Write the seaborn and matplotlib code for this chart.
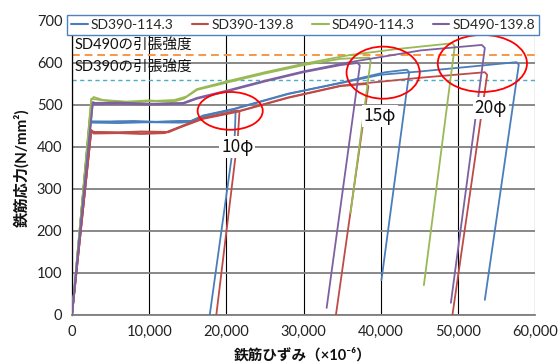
import matplotlib
matplotlib.use("Agg")
import matplotlib.pyplot as plt
import seaborn as sns
import pandas as pd
from matplotlib.patches import Ellipse
from matplotlib.ticker import FuncFormatter

# ---- series ----
series_names = ["SD390-114.3", "SD390-139.8", "SD490-114.3", "SD490-139.8"]
series_colors = ["#4A7EBB", "#BE4B48", "#98B954", "#7D60A0"]

# SD390-114.3 : unloading after 10φ / 15φ / 20φ
b10_strain = [0, 2300, 2600, 5000, 8000, 11000, 14000, 15500, 17000, 19000, 21000, 21200, 21100, 17850]
b10_stress = [0, 465, 461, 460, 462, 460, 461, 462, 474, 482, 489, 486, 430, 0]
b15_strain = [0, 2300, 2500, 6000, 10000, 14000, 15600, 17000, 21000, 28000, 34800, 40600, 43400, 43700, 40100]
b15_stress = [0, 462, 458, 457, 459, 458, 460, 473, 490, 526, 553, 578, 584, 578, 83]
b20_strain = [0, 2300, 2500, 6000, 10000, 14000, 15400, 17000, 21000, 28000, 34800, 40000, 45200, 52000, 57600, 57900, 53500]
b20_stress = [0, 463, 460, 461, 459, 462, 462, 475, 491, 527, 552, 572, 580, 592, 602, 596, 36]

# SD390-139.8
r10_strain = [0, 2500, 2800, 6000, 9000, 12300, 14500, 17000, 19500, 21500, 21700, 21500, 18700]
r10_stress = [0, 440, 436, 435, 437, 436, 452, 469, 479, 487, 484, 425, 0]
r15_strain = [0, 2500, 2800, 6000, 9000, 12000, 14500, 17000, 21500, 28000, 34800, 38100, 38400, 34200]
r15_stress = [0, 438, 432, 433, 431, 433, 450, 467, 484, 517, 545, 550, 545, 0]
r20_strain = [0, 2500, 2800, 6000, 9000, 12500, 14500, 17000, 21500, 28000, 34800, 45200, 53500, 53800, 49300]
r20_stress = [0, 440, 435, 434, 436, 435, 451, 469, 485, 518, 546, 565, 578, 572, 0]

# SD490-114.3 : unloading after 15φ / 20φ
g15_strain = [0, 2500, 2800, 4000, 7000, 10000, 13000, 14500, 16200, 20000, 25000, 30000, 34800, 38500, 38700, 36100]
g15_stress = [0, 512, 519, 512, 508, 511, 507, 515, 536, 553, 575, 595, 610, 613, 605, 243]
g20_strain = [0, 2500, 2800, 5000, 8000, 11000, 13300, 14800, 16200, 20000, 25000, 30000, 36000, 42000, 49300, 49600, 45600]
g20_stress = [0, 515, 514, 509, 506, 510, 512, 520, 538, 556, 578, 598, 619, 633, 647, 640, 71]

# SD490-139.8
p15_strain = [0, 2700, 3000, 6000, 10000, 14400, 16200, 20000, 25000, 30000, 34800, 37000, 37300, 33000]
p15_stress = [0, 505, 502, 503, 501, 503, 515, 532, 556, 578, 595, 600, 594, 17]
p20_strain = [0, 2700, 3000, 6000, 10000, 14400, 16200, 20000, 25000, 30000, 36000, 45200, 53100, 53500, 49100]
p20_stress = [0, 507, 505, 506, 503, 505, 517, 534, 558, 580, 602, 630, 643, 636, 29]

# tensile strength reference levels
ts_sd490 = 620
ts_sd390 = 560

x_ticks = [0, 10000, 20000, 30000, 40000, 50000, 60000]
y_ticks = [0, 100, 200, 300, 400, 500, 600, 700]

tests = [
    ("SD390-114.3", "10φ", b10_strain, b10_stress),
    ("SD390-114.3", "15φ", b15_strain, b15_stress),
    ("SD390-114.3", "20φ", b20_strain, b20_stress),
    ("SD390-139.8", "10φ", r10_strain, r10_stress),
    ("SD390-139.8", "15φ", r15_strain, r15_stress),
    ("SD390-139.8", "20φ", r20_strain, r20_stress),
    ("SD490-114.3", "15φ", g15_strain, g15_stress),
    ("SD490-114.3", "20φ", g20_strain, g20_stress),
    ("SD490-139.8", "15φ", p15_strain, p15_stress),
    ("SD490-139.8", "20φ", p20_strain, p20_stress),
]

rows = []
for name, tag, xs, ys in tests:
    for x, y in zip(xs, ys):
        rows.append({"strain": x, "stress": y, "series": name, "test": f"{name} {tag}"})
df = pd.DataFrame(rows)

sns.set_theme(style="white")
plt.rcParams["font.family"] = ["Lato", "Noto Sans CJK JP", "DejaVu Sans"]

W, H = 560, 363
fig = plt.figure(figsize=(W / 100, H / 100), dpi=100)
ax = fig.add_axes([72 / W, 1 - 315 / H, (535 - 72) / W, (315 - 21) / H])

sns.lineplot(data=df, x="strain", y="stress", hue="series", hue_order=series_names,
             palette=series_colors, units="test", estimator=None, sort=False,
             linewidth=1.3, ax=ax, zorder=3)

ax.set_xlim(0, 60000)
ax.set_ylim(0, 700)
ax.set_xticks(x_ticks)
ax.set_yticks(y_ticks)
ax.xaxis.set_major_formatter(FuncFormatter(lambda v, p: f"{int(v):,}"))

# grid: grey horizontals, black verticals
ax.set_axisbelow(True)
ax.yaxis.grid(True, color="#7f7f7f", linewidth=1.3)
ax.xaxis.grid(True, color="#000000", linewidth=0.8)
for s in ["top", "right"]:
    ax.spines[s].set_visible(False)
ax.spines["left"].set_color("black")
ax.spines["left"].set_linewidth(0.9)
ax.spines["bottom"].set_color("#7f7f7f")
ax.spines["bottom"].set_linewidth(1.3)
ax.tick_params(axis="both", direction="out", length=4, width=0.9, color="black",
               labelsize=10.5, labelcolor="#222222", pad=3)
ax.set_xlabel("")
ax.set_ylabel("")

# tensile strength lines
ax.axhline(ts_sd490, color="#F79646", linestyle=(0, (4, 2.5)), linewidth=1.4, zorder=2)
ax.axhline(ts_sd390, color="#4BACC6", linestyle=(0, (3, 2.5)), linewidth=1.0, zorder=2)
ax.text(390, 641, "SD490の引張強度", ha="left", va="center", fontsize=10.5, color="#111111")
ax.text(390, 588, "SD390の引張強度", ha="left", va="center", fontsize=10.5, color="#111111")

# unloading zones
for (cx, cy, w, h) in [(20500, 486, 8440, 90), (40320, 577, 9480, 124), (53180, 599, 11560, 136)]:
    ax.add_patch(Ellipse((cx, cy), w, h, fill=False, edgecolor="#FF0000", linewidth=1.3, zorder=5))
for (tx, ty, s) in [(21430, 400, "10φ"), (39870, 474, "15φ"), (54290, 493, "20φ")]:
    ax.text(tx, ty, s, ha="center", va="center", fontsize=12.5, color="#111111", zorder=6,
            family=["Noto Sans CJK JP", "DejaVu Sans"],
            bbox=dict(facecolor="white", edgecolor="none", pad=1.2))

# legend
handles, labels = ax.get_legend_handles_labels()
leg = ax.legend(handles, labels, loc="lower left",
                bbox_to_anchor=(67 / W, 1 - 35 / H, 472 / W, 23 / H),
                bbox_transform=fig.transFigure, mode="expand", ncol=4,
                frameon=True, fancybox=False, borderaxespad=0, borderpad=0.3,
                handlelength=1.2, handletextpad=0.2, fontsize=10)
leg.get_frame().set_edgecolor("#4F81BD")
leg.get_frame().set_linewidth(1.0)
leg.get_frame().set_facecolor("white")
leg.get_frame().set_alpha(1)
leg.set_zorder(10)
for line in leg.get_lines():
    line.set_linewidth(1.5)

fig.text(22 / W, 1 - 168 / H, "鉄筋応力(N/mm²)", rotation=90, ha="center", va="center",
         fontsize=11, fontweight="bold", color="#111111")
fig.text(303 / W, 1 - 355 / H, "鉄筋ひずみ（×10⁻⁶）", ha="center", va="center",
         fontsize=10.5, fontweight="bold", color="#111111")

fig.savefig("out.png", dpi=100)
